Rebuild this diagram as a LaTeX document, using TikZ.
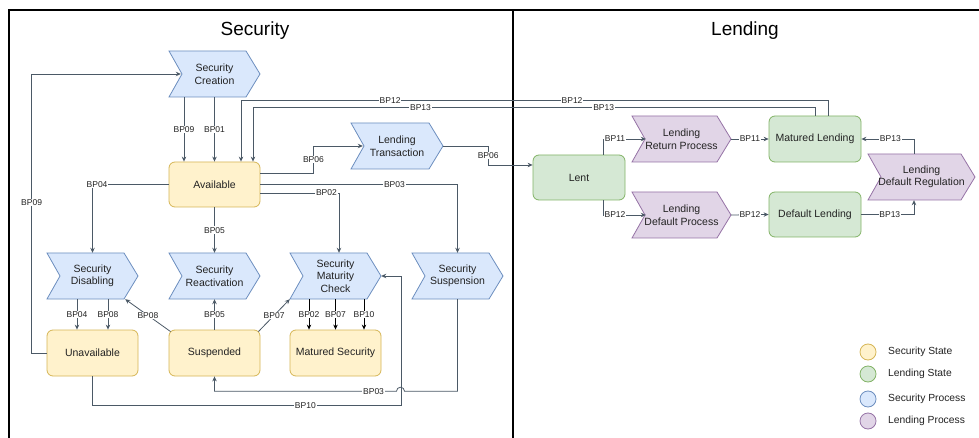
\documentclass[tikz,border=0pt]{standalone}
\usepackage{fontspec}
\setmainfont{Liberation Sans}
\usetikzlibrary{arrows.meta}
\definecolor{yfill}{HTML}{FFF2CC}\definecolor{ystroke}{HTML}{D6B656}
\definecolor{gfill}{HTML}{D5E8D4}\definecolor{gstroke}{HTML}{82B366}
\definecolor{bfill}{HTML}{DAE8FC}\definecolor{bstroke}{HTML}{6C8EBF}
\definecolor{pfill}{HTML}{E1D5E7}\definecolor{pstroke}{HTML}{9673A6}
\definecolor{edgec}{HTML}{4B5966}
\definecolor{txtc}{HTML}{222222}
\tikzset{
  edge/.style={draw=edgec, line width=0.8pt, -{Stealth[length=5pt,width=4.5pt]}},
  blackedge/.style={draw=black, line width=0.8pt, -{Stealth[length=5pt,width=4.5pt]}},
  lbl/.style={fill=white, inner sep=0.8pt, font=\fontsize{8.5}{9}\selectfont, text=txtc},
  txt/.style={align=center, font=\fontsize{10.5}{12.5}\selectfont, inner sep=0pt, text=txtc},
  sstate/.style={txt, draw=ystroke, fill=yfill, rounded corners=6pt, minimum width=91pt, minimum height=45pt, line width=0.8pt},
  lstate/.style={txt, draw=gstroke, fill=gfill, rounded corners=6pt, minimum width=92pt, minimum height=45pt, line width=0.8pt},
  sproc/.style={draw=bstroke, fill=bfill, line width=0.8pt},
  lproc/.style={draw=pstroke, fill=pfill, line width=0.8pt},
  legdot/.style={circle, minimum size=16pt, inner sep=0pt, line width=0.8pt},
  legtxt/.style={anchor=west, font=\fontsize{10.3}{12}\selectfont, text=txtc, inner sep=0pt},
  title/.style={font=\fontsize{19}{22}\selectfont, text=black}
}
\newcommand\mychev[6]{%
  \path[#5] ({#2-#4/2},{#3-23}) -- ({#2+#4/2-14},{#3-23}) -- ({#2+#4/2},#3) -- ({#2+#4/2-14},{#3+23}) -- ({#2-#4/2},{#3+23}) -- ({#2-#4/2+13},#3) -- cycle;
  \node[txt, minimum width=#4pt, minimum height=46pt] (#1) at (#2,#3) {#6};}
\begin{document}
\begin{tikzpicture}[x=1pt,y=-1pt]
\useasboundingbox (0,0) rectangle (979,438);
\fill[white] (0,0) rectangle (979,438);
% frame
\draw[line width=2pt] (9,438) -- (9,10) -- (979,10);
\draw[line width=2pt] (513,10) -- (513,438);
\node[title] (t1) at (255,31) {Security};
\node[title] (t2) at (745,31) {Lending};

% security nodes
\mychev{sc}{214.5}{74}{91}{sproc}{Security\\Creation}
\node[sstate] (av) at (214.5,184.5) {Available};
\mychev{lt}{397}{146}{92}{sproc}{Lending\\Transaction}
\mychev{sd}{92.5}{276}{91}{sproc}{Security\\Disabling}
\mychev{sr}{214.5}{276}{91}{sproc}{Security\\Reactivation}
\mychev{smc}{335.5}{276}{91}{sproc}{Security\\Maturity\\Check}
\mychev{ss}{457.5}{276}{91}{sproc}{Security\\Suspension}
\node[sstate, minimum height=46pt] (un) at (92.5,353) {Unavailable};
\node[sstate, minimum height=46pt] (su) at (214.5,353) {Suspended};
\node[sstate, minimum height=46pt] (ms) at (335.5,353) {Matured Security};

% lending nodes
\node[lstate] (lent) at (579,177.5) {Lent};
\mychev{lrp}{681.5}{139}{99}{lproc}{Lending\\Return Process}
\mychev{ldp}{681.5}{215}{99}{lproc}{Lending\\Default Process}
\node[lstate, minimum height=46pt] (ml) at (815,139) {Matured Lending};
\node[lstate] (dl) at (815,214.5) {Default Lending};
\mychev{ldr}{921.5}{177}{107}{lproc}{Lending\\Default Regulation}

% edges: security
\draw[edge] ([xshift=-30.5pt]sc.south) -- node[lbl]{BP09} ([xshift=-30.5pt]av.north);
\draw[edge] (sc.south) -- node[lbl]{BP01} (av.north);
\draw[edge] ([xshift=13pt]ml.north) -- ++(0,-15) -| node[lbl,pos=0.218]{BP12} node[lbl,pos=0.373]{BP12} ([xshift=26.5pt]av.north);
\draw[edge] (ml.north) -- ++(0,-8) -| node[lbl,pos=0.188]{BP13} node[lbl,pos=0.351]{BP13} ([xshift=38.5pt]av.north);
\draw[edge] ([yshift=11.5pt]av.east) -- ++(53,0) |- node[lbl,pos=0.25]{BP06} ([xshift=12pt]lt.west);
\draw[edge] (lt.east) -- ++(45,0) |- node[lbl,pos=0.25]{BP06} ([yshift=12.5pt]lent.west);
\draw[edge] (av.east) -| node[lbl,pos=0.34]{BP03} (ss.north);
\draw[edge] ([yshift=-8.5pt]av.east) -| node[lbl,pos=0.42]{BP02} ([xshift=3.5pt]smc.north);
\draw[edge] (av.west) -| node[lbl,pos=0.47]{BP04} (sd.north);
\draw[edge] (av.south) -- node[lbl]{BP05} (sr.north);
\draw[edge] (un.west) -- ++(-15,0) |- node[lbl,pos=0.27]{BP09} ([xshift=12pt]sc.west);
\draw[edge] ([xshift=-15.5pt]sd.south) -- node[lbl]{BP04} ([xshift=-15.5pt]un.north);
\draw[edge] ([xshift=15.5pt]sd.south) -- node[lbl]{BP08} ([xshift=15.5pt]un.north);
\draw[edge] ([xshift=2pt,yshift=-2pt]su.north west) -- node[lbl]{BP08} ([xshift=-13pt]sd.south east);
\draw[edge] (su.north) -- node[lbl]{BP05} (sr.south);
\draw[edge] ([xshift=-2pt,yshift=-2pt]su.north east) -- node[lbl]{BP07} (smc.south west);
\draw[blackedge] ([xshift=-26.5pt]smc.south) -- node[lbl]{BP02} ([xshift=-26.5pt]ms.north);
\draw[blackedge] (smc.south) -- node[lbl]{BP07} (ms.north);
\draw[blackedge] ([xshift=28.5pt]smc.south) -- node[lbl]{BP10} ([xshift=28.5pt]ms.north);
\draw[edge] (un.south) -- ++(0,29) -- node[lbl,pos=0.69]{BP10} ++(308.5,0) |- (smc.east);
\draw[edge] (ss.south) -- ++(0,92) -- ++(-53,0) arc(0:-180:4) -| node[lbl,pos=0.063]{BP03} (su.south);

% edges: lending
\draw[edge] ([xshift=24pt]lent.north) |- node[lbl,pos=0.64]{BP11} ([xshift=14pt]lrp.west);
\draw[edge] ([xshift=24pt]lent.south) |- node[lbl,pos=0.64]{BP12} ([xshift=14pt]ldp.west);
\draw[edge] (lrp.east) -- node[lbl]{BP11} (ml.west);
\draw[edge] (ldp.east) -- node[lbl]{BP12} (dl.west);
\draw[edge] (dl.east) -| node[lbl,pos=0.27]{BP13} ([xshift=-7.5pt]ldr.south);
\draw[edge] ([xshift=-7.5pt]ldr.north) |- node[lbl,pos=0.725]{BP13} (ml.east);

% legend
\node[legdot, draw=ystroke, fill=yfill] (lg1) at (868,352) {};
\node[legtxt] (lg1t) at (888,352) {Security State};
\node[legdot, draw=gstroke, fill=gfill] (lg2) at (868,374) {};
\node[legtxt] (lg2t) at (888,374) {Lending State};
\node[legdot, draw=bstroke, fill=bfill] (lg3) at (868,399) {};
\node[legtxt] (lg3t) at (888,399) {Security Process};
\node[legdot, draw=pstroke, fill=pfill] (lg4) at (868,421) {};
\node[legtxt] (lg4t) at (888,421) {Lending Process};
\end{tikzpicture}
\end{document}
